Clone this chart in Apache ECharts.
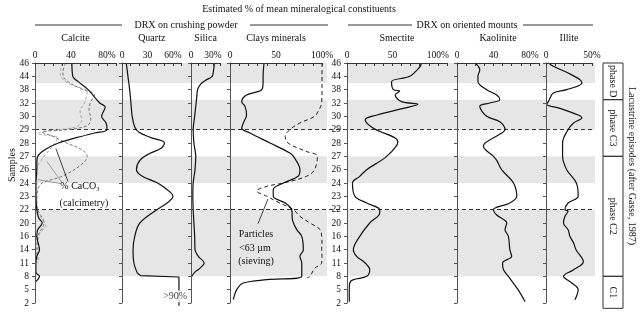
<!DOCTYPE html>
<html><head><meta charset="utf-8">
<script src="https://cdn.jsdelivr.net/npm/echarts@6/dist/echarts.min.js"></script>
<style>html,body{margin:0;padding:0;background:#fff}#c{width:640px;height:313px}</style>
</head><body><div id="c"></div>
<script>
// ---- data (y = sample index, 0 = sample 46 at top ... 18 = sample 2) ----
const sampleLabels = ['46','44','38','32','30','29','28','27','26','24','23','22','20','16','14','11','8','5','2'];
const calciteTicks = [0,40,80];
const quartzTicks = [0,30,60];
const silicaTicks = [0,30];
const claysTicks = [0,50,100];
const smectiteTicks = [0,50,100];
const kaoliniteTicks = [0,40,80];
const illiteTicks = [0,50];

const calcite = [[41,0],[42,1],[48,1.4],[59,2],[72,3],[78,3.3],[74,4],[79,4.5],[80,5],[66,5.25],[46,5.6],[26,6],[11,6.5],[3,7],[2,7.5],[2,8],[1,9],[1,10],[2,11],[4,11.6],[8,12],[3,12.5],[2,13],[5,14],[2,14.5],[1,15],[1,15.7],[5,16],[1,16.4]];
const caco3A = [[34,0],[31,0.7],[33,1.2],[50,1.9],[66,2.4],[62,2.9],[60,3.5],[62,4.2],[58,4.7],[35,5.0],[8,5.2],[20,5.5],[35,6],[52,6.5],[58,7],[50,7.7],[30,8.5],[8,9],[3,9.5],[2,10.5],[3,11],[10,12],[3,13],[2,14],[2,15]];
const caco3B = [[30,0],[28,0.8],[36,1.5],[58,2.2],[55,3],[50,3.6],[52,4.3],[45,4.8],[12,5.1],[3,5.3],[25,5.6],[22,6],[15,6.6],[8,7.2],[2,8],[2,11],[8,11.7],[12,12.2],[5,12.8],[3,14],[4,15]];
const quartz = [[5,0],[7,1],[9,2],[10.5,3],[12,4],[15,4.8],[20,5.2],[34,5.6],[50,6],[46,6.4],[32,6.8],[21,7.3],[17,8],[24,8.5],[42,9],[57,9.7],[60,10],[53,10.5],[41,11],[21,12],[15,13],[13,14],[14,15],[18,15.75]];
const quartzBase = [[18,15.75],[22,15.95],[67,16.05],[67,18.2]];
const silica = [[32,0],[31,0.5],[29,1],[20,1.3],[13,1.6],[9,2],[8,2.5],[7,3],[5,4],[3,5],[4,6],[6.5,7],[5.5,8],[3,9],[2.5,10],[3,11],[4,12],[5,13],[5.5,14],[10,14.5],[18,15],[12,15.4],[5,15.7],[1,16]];
const clays = [[37,0],[36,1],[36,1.4],[34.5,2],[18,2.4],[12.7,2.9],[16.3,3.25],[18,3.9],[14.5,4.5],[12.7,4.9],[21.7,5.25],[43.5,6],[65,6.75],[69,7],[76,8],[74,8.5],[58,9],[47,9.5],[47,10],[60,10.5],[67,11],[68,11.8],[72.5,12.5],[78,13],[79.7,14],[76,14.5],[78,15],[78,16],[40,16.25],[14.5,16.5],[7.3,17],[3.6,17.75]];
const particles = [[100,0],[100,1],[100,2],[99.6,3],[96,3.6],[92,4],[76,4.5],[65,5],[60,5.5],[63,6],[81.5,6.6],[95,7],[92,8],[83,8.5],[58,9],[40,9.25],[29,9.6],[40,10],[54,10.5],[69,11],[76,11.5],[87,12],[98,12.5],[99.6,13],[100,13.5],[99.6,14],[100,14.5],[99.6,15],[92,15.4],[87,16],[84,16.1]];
const smectite = [[82,0],[80,0.3],[69,1],[49,1.4],[51,2],[58,2.1],[53,2.4],[60,2.9],[78,3.1],[62,3.4],[33,3.9],[20,4.25],[29,4.9],[56,5.9],[43.6,7],[21.6,8],[14,8.5],[6,9],[8.8,10],[21.6,10.5],[36,11],[36,11.25],[25,12],[14,13],[7,14],[10.6,14.5],[20,15],[25,15.5],[21.6,16],[7,16.25],[3,16.5],[2.5,17],[2.5,17.9]];
const kaolinite = [[19.8,0],[25,0.5],[23,1],[23,1.4],[32.6,2],[43.6,2.4],[47,2.75],[36,3],[25,3.25],[32.6,4],[47,4.4],[52.7,5],[49,5.25],[30.8,6],[29,6.25],[40,7],[43.6,7.3],[49,8],[62,9],[65.6,10],[58,10.5],[40,11],[43.6,11.4],[54.6,12],[52.7,12.5],[56.4,13],[58,14],[60,14.5],[50,15],[51,15.5],[56.4,16],[67,17],[74.7,17.9]];
const illite = [[2.5,0],[8,0.25],[24,0.75],[37,1.25],[39,1.5],[22.5,2],[8,2.25],[2.5,2.9],[0.7,3.1],[15,3.4],[35,3.9],[39,4.1],[30,4.5],[24,5],[18,6],[18,7],[22.5,8],[33,9],[35,10],[24,10.5],[20.6,11],[24,11.1],[20.6,11.5],[19,12],[24,12.5],[26,13],[30,13.5],[32.6,14],[40.6,14.9],[30,15.5],[19,16],[28,16.5],[35,17],[31.5,17.75]];

const bandRanges = [[0,1.5],[2.75,5],[7,9],[11,16]];
const boundaryLines = [5,11];
const phases = [['phase D',0,2.75],['phase C3',2.75,7],['phase C2',7,16],['C1',16,18.4]];
const caco3Pointers = [ {c:'#111', d:[[36.7,8.9],[23.3,6.43]]}, {c:'#888', d:[[30,8.97],[13.3,7.4]]}, {c:'#888', d:[[28.9,9.05],[3.3,8.75]]} ];
const particlesPointer = [[30.4,12.05],[41.3,10.2]];

// ---- layout ----
const FONT = "'Liberation Serif','Times New Roman',serif";
const TOP = 63, H = 240;
const panels = [
  {name:'Calcite', left:35, width:81, max:90, ticks:calciteTicks, ylab:true},
  {name:'Quartz', left:122, width:59.5, max:70, ticks:quartzTicks},
  {name:'Silica', left:191, width:29.2, max:40, ticks:silicaTicks},
  {name:'Clays minerals', left:230, width:92, max:100, ticks:claysTicks},
  {name:'Smectite', left:347, width:100, max:110, ticks:smectiteTicks, ylab:true},
  {name:'Kaolinite', left:457, width:82, max:90, ticks:kaoliniteTicks},
  {name:'Illite', left:546, width:46, max:50, ticks:illiteTicks}
];
const grid=[], xAxis=[], yAxis=[], series=[];
panels.forEach((p,i)=>{
  grid.push({left:p.left, top:TOP, width:p.width, height:H, outerBoundsMode:'none'});
  xAxis.push({gridIndex:i, type:'value', position:'top', min:0, max:p.max, interval:10, z:10,
    name:p.name, nameLocation:'middle', nameGap:20,
    nameTextStyle:{fontFamily:FONT, fontSize:10, color:'#111'},
    axisLine:{show:true, onZero:false, lineStyle:{color:'#333', width:1}},
    axisTick:{show:true, inside:true, length:3, lineStyle:{color:'#333'}},
    axisLabel:{fontFamily:FONT, fontSize:9.5, color:'#111', margin:3,
      formatter:(v)=> p.ticks.includes(v) ? (v===p.ticks[p.ticks.length-1] ? v+'%' : String(v)) : ''},
    splitLine:{show:false}});
  yAxis.push({gridIndex:i, type:'value', min:0, max:18, interval:1, inverse:true, z:10,
    axisLine:{show:true, onZero:false, lineStyle:{color:'#555', width:1}},
    axisTick:{show:true, length:3, lineStyle:{color:'#555'}},
    axisLabel:{show:!!p.ylab, fontFamily:FONT, fontSize:9.5, color:'#111', margin:6,
      formatter:(v)=> sampleLabels[Math.round(v)] || ''},
    splitLine:{show:false}});
});
function addLine(idx, data, opts){
  series.push(Object.assign({type:'line', xAxisIndex:idx, yAxisIndex:idx, data:data, smooth:0.35,
    symbol:'none', clip:false, silent:true, z:5,
    lineStyle:{color:'#111', width:1.2}}, opts||{}));
}
addLine(0, caco3B, {lineStyle:{color:'#aaa', width:1, type:[3,2]}});
addLine(0, caco3A, {lineStyle:{color:'#777', width:1, type:[3,2]}});
addLine(0, calcite);
caco3Pointers.forEach(pt=>addLine(0, pt.d, {smooth:false, lineStyle:{color:pt.c, width:0.8}}));
addLine(1, quartz);
addLine(1, quartzBase, {smooth:false});
series.push({type:'scatter', xAxisIndex:1, yAxisIndex:1, data:[[62.5,17.5]], symbolSize:0, z:6, silent:true,
  label:{show:true, position:'inside', formatter:'>90%', fontFamily:FONT, fontSize:10, color:'#111', backgroundColor:'#fff', padding:[1,0]}});
addLine(2, silica);
addLine(3, particles, {lineStyle:{color:'#222', width:1, type:[4,3]}});
addLine(3, clays);
addLine(3, particlesPointer, {smooth:false, lineStyle:{color:'#111', width:0.8}});
addLine(4, smectite);
addLine(5, kaolinite);
addLine(6, illite);

// background grids
const bgDefs = [ {left:35, width:292}, {left:347, width:248}, {left:35, width:560}, {left:603, width:20, h:245.3, max:18.4} ];
bgDefs.forEach((b,k)=>{
  const gi = panels.length + k;
  grid.push({left:b.left, top:TOP, width:b.width, height:b.h||H, outerBoundsMode:'none'});
  xAxis.push({gridIndex:gi, type:'value', min:0, max:1, show:false});
  yAxis.push({gridIndex:gi, type:'value', min:0, max:b.max||18, inverse:true, show:false});
});
[0,1].forEach(k=>{
  series.push({type:'line', xAxisIndex:7+k, yAxisIndex:7+k, data:[], z:1, silent:true,
    markArea:{silent:true, itemStyle:{color:'#e6e6e6'},
      data: bandRanges.map(r=>[{xAxis:0, yAxis:r[0]},{xAxis:1, yAxis:r[1]}])}});
});
series.push({type:'line', xAxisIndex:9, yAxisIndex:9, data:[], z:3, silent:true,
  markLine:{silent:true, symbol:['none','none'], label:{show:false},
    lineStyle:{color:'#333', width:1, type:[4,3]},
    data: boundaryLines.map(v=>({yAxis:v}))}});
series.push({type:'line', xAxisIndex:10, yAxisIndex:10, data:[], z:3, silent:true,
  markArea:{silent:true, itemStyle:{color:'rgba(0,0,0,0)', borderColor:'#333', borderWidth:1},
    label:{show:true, position:'inside', rotate:-90, fontFamily:FONT, fontSize:10, color:'#111'},
    data: phases.map(p=>[{name:p[0], xAxis:0, yAxis:p[1]},{xAxis:1, yAxis:p[2]}])}});

function txt(x,y,text,extra){
  return Object.assign({type:'text', x:x, y:y, z:20, silent:true,
    style:{text:text, fill:'#111', font:'10px '+FONT, textAlign:'center', textVerticalAlign:'middle', align:'center', verticalAlign:'middle'}}, extra||{});
}
function ln(x1,x2,y){ return {type:'line', z:20, silent:true, shape:{x1:x1,y1:y,x2:x2,y2:y}, style:{stroke:'#333', lineWidth:1}}; }
const graphic = [
  txt(299,9,'Estimated % of mean mineralogical constituents'),
  txt(186,25,'DRX on crushing powder'), ln(35,122,25), ln(250,328,25),
  txt(467,25,'DRX on oriented mounts'), ln(348,412,25), ln(523,593,25),
  txt(12,165,'Samples',{rotation:Math.PI/2}),
  txt(632,166,'Lacustrine episodes (after Gasse, 1987)',{rotation:-Math.PI/2}),
  txt(80,186,'% CaCO\u2083'), txt(84,203,'(calcimetry)'),
  txt(256,234,'Particles'), txt(255,248,'<63 \u00b5m'), txt(256,261,'(sieving)')
];

const chart = echarts.init(document.getElementById('c'));
chart.setOption({animation:false, backgroundColor:'#fff', grid, xAxis, yAxis, series, graphic});
</script></body></html>
